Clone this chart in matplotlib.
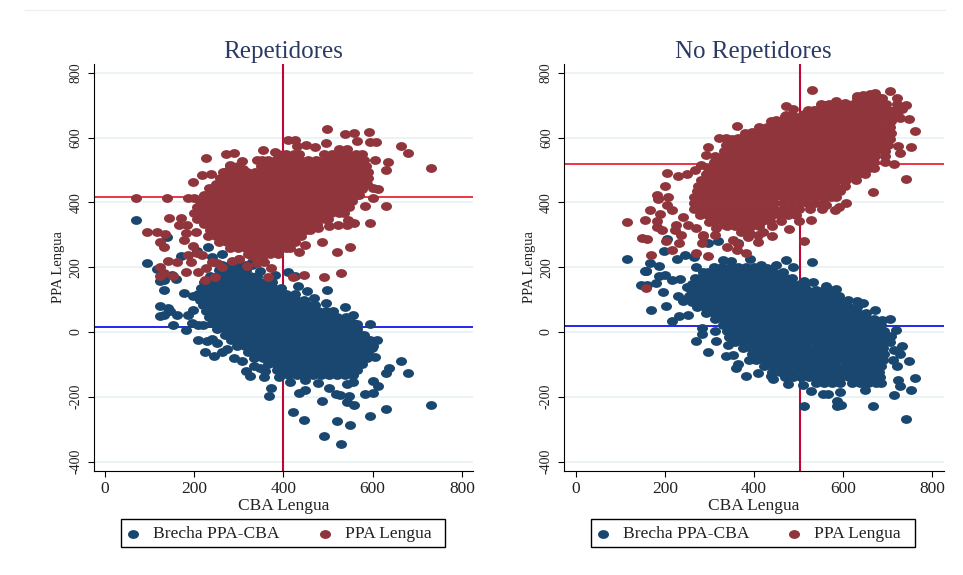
import matplotlib
matplotlib.use("Agg")
import matplotlib.pyplot as plt
from matplotlib.lines import Line2D
from matplotlib.patches import Rectangle
from matplotlib.path import Path
from matplotlib.transforms import Affine2D

plt.rcParams["axes.unicode_minus"] = False

# values: {y: [x, x, ...]} for the dense clouds, plus loose points
rep_ppa_rows = {
    566: [525, 543],
    548: [387, 405, 423, 435, 490, 508, 526, 544, 562, 575],
    530: [365, 383, 401, 419, 437, 455, 473, 491, 509, 527, 545, 563, 581],
    512: [280, 298, 350, 368, 386, 404, 422, 440, 458, 476, 494, 512, 530, 548, 566, 584],
    494: [265, 283, 301, 319, 337, 355, 373, 391, 409, 427, 445, 463, 481, 499, 517, 535, 553, 571, 589],
    476: [258, 276, 294, 312, 330, 348, 366, 384, 402, 420, 438, 456, 474, 492, 510, 528, 546, 564, 582, 590],
    458: [248, 266, 284, 302, 320, 338, 356, 374, 392, 410, 428, 446, 464, 482, 500, 518, 536, 554, 572, 588],
    440: [235, 253, 271, 289, 307, 325, 343, 361, 379, 397, 415, 433, 451, 469, 487, 505, 523, 541, 559, 577],
    422: [222, 240, 258, 276, 294, 312, 330, 348, 366, 384, 402, 420, 438, 456, 474, 492, 510, 528, 546, 564, 570],
    404: [212, 230, 248, 266, 284, 302, 320, 338, 356, 374, 392, 410, 428, 446, 464, 482, 500, 518, 536, 554],
    386: [205, 223, 241, 259, 277, 295, 313, 331, 349, 367, 385, 403, 421, 439, 457, 475, 493, 511, 529, 547],
    368: [200, 218, 236, 254, 272, 290, 308, 326, 344, 362, 380, 398, 416, 434, 452, 470, 488, 506, 524, 535],
    350: [205, 223, 241, 259, 277, 295, 313, 331, 349, 367, 385, 403, 421, 439, 457, 475, 493, 500],
    332: [222, 240, 258, 276, 294, 312, 330, 348, 366, 384, 402, 420, 438, 456, 475],
    314: [235, 253, 271, 289, 307, 325, 343, 361, 379, 397, 415, 433, 451, 460],
    296: [230, 248, 266, 284, 302, 320, 338, 356, 374, 392, 410, 428, 440],
    278: [255, 273, 291, 309, 327, 345, 363, 381, 399, 417, 425],
    260: [280, 298, 316, 334, 352, 370, 388, 406, 415],
    242: [320, 338, 356, 370, 388],
}
rep_ppa_x = [70, 138, 185, 200, 219, 198, 218, 237, 227, 271, 290, 306, 354, 381, 340, 352, 279, 289, 310, 269,
             232, 250, 410, 425, 431, 451, 471, 495, 497, 537, 558, 591, 564, 594, 607, 663, 680, 731, 634, 630,
             605, 600, 601, 611, 582, 630, 593, 559, 544, 523, 501, 542, 478, 487, 520, 549, 448, 434, 529, 490,
             447, 422, 366, 372, 247, 224, 123, 131, 153, 181, 123, 142, 162, 187, 192, 209, 226, 240, 252, 263,
             95, 116, 134, 124, 132, 144, 166, 170, 183, 176, 182, 198, 206, 217, 204, 300, 318, 340, 352, 357, 330, 285]
rep_ppa_y = [412, 413, 415, 415, 418, 464, 484, 488, 538, 548, 551, 529, 563, 555, 531, 531, 515, 510, 502, 495,
             445, 447, 592, 594, 574, 576, 572, 583, 627, 612, 613, 616, 589, 587, 585, 575, 551, 507, 524, 501,
             531, 413, 443, 440, 390, 390, 335, 335, 346, 330, 328, 330, 320, 277, 247, 262, 268, 247, 183, 169,
             177, 171, 169, 198, 171, 160, 173, 181, 173, 186, 202, 220, 217, 238, 216, 184, 197, 217, 212, 202,
             309, 310, 303, 279, 262, 351, 329, 353, 330, 284, 307, 264, 243, 238, 310, 225, 205, 214, 232, 215, 236, 218]

rep_gap_rows = {
    208: [262, 280, 298, 316, 330],
    190: [255, 273, 291, 309, 315],
    172: [235, 253, 271, 289, 307, 325, 340],
    154: [222, 240, 258, 276, 294, 312, 330, 348, 366, 375],
    136: [215, 233, 251, 269, 287, 305, 323, 341, 359, 377, 395],
    118: [208, 226, 244, 262, 280, 298, 316, 334, 352, 370, 388, 406, 425],
    100: [213, 231, 249, 267, 285, 303, 321, 339, 357, 375, 393, 411, 429, 445],
    82: [220, 238, 256, 274, 292, 310, 328, 346, 364, 382, 400, 418, 436, 454, 470],
    64: [226, 244, 262, 280, 298, 316, 334, 352, 370, 388, 406, 424, 442, 460, 478, 496, 510],
    46: [233, 251, 269, 287, 305, 323, 341, 359, 377, 395, 413, 431, 449, 467, 485, 503, 521, 540],
    28: [240, 258, 276, 294, 312, 330, 348, 366, 384, 402, 420, 438, 456, 474, 492, 510, 528, 546, 555],
    10: [252, 270, 288, 306, 324, 342, 360, 378, 396, 414, 432, 450, 468, 486, 504, 522, 540, 558, 565],
    -8: [268, 286, 304, 322, 340, 358, 376, 394, 412, 430, 448, 466, 484, 502, 520, 538, 556, 574, 580],
    -26: [282, 300, 318, 336, 354, 372, 390, 408, 426, 444, 462, 480, 498, 516, 534, 552, 570, 588, 595],
    -44: [295, 313, 331, 349, 367, 385, 403, 421, 439, 457, 475, 493, 511, 529, 547, 565, 583, 600],
    -62: [320, 338, 356, 374, 392, 410, 428, 446, 464, 482, 500, 518, 536, 554, 572, 590],
    -80: [335, 353, 371, 389, 407, 425, 443, 461, 479, 497, 515, 533, 551, 569, 587],
    -98: [365, 383, 401, 419, 437, 455, 473, 491, 509, 527, 545, 563, 575],
    -116: [385, 403, 421, 439, 457, 475, 493, 511, 529, 547, 565],
    -134: [395, 413, 431, 449, 467, 485, 503, 521, 539, 555],
}
rep_gap_x = [70, 95, 138, 116, 123, 132, 132, 123, 142, 123, 131, 146, 162, 153, 182, 187, 198, 194, 209, 220,
             209, 228, 239, 250, 224, 245, 262, 273, 288, 306, 316, 325, 334, 348, 359, 357, 373, 367, 389, 415,
             448, 478, 448, 434, 501, 487, 517, 527, 542, 555, 546, 543, 559, 582, 600, 600, 611, 421, 447, 519,
             550, 490, 530, 593, 630, 731, 680, 630, 636, 663, 606, 598, 609, 593, 564, 557, 538, 495, 497, 469,
             452, 432, 410, 425, 381, 347, 170, 206, 230, 240, 262, 300, 330, 150, 160, 178, 196]
rep_gap_y = [345, 213, 294, 194, 156, 161, 131, 79, 74, 50, 51, 64, 53, 23, 7, 53, 69, 28, 21, 21,
             -24, -27, -22, -34, -63, -73, -63, -52, -80, -88, -119, -137, -106, -111, -121, -139, -174, -198, -139, -154,
             -147, -157, -179, -188, -174, -212, -191, -193, -162, -155, -198, -216, -224, -191, -188, -152, -168, -248, -271, -274,
             -286, -322, -346, -258, -239, -225, -127, -126, -111, -88, -77, -49, -24, 26, 26, 53, 76, 90, 130, 105,
             125, 141, 184, 172, 177, 187, 235, 250, 262, 230, 240, 225, 215, 175, 165, 120, 110]

norep_ppa_rows = {
    722: [630, 648, 666, 680],
    704: [551, 569, 587, 605, 623, 641, 659, 677, 695],
    686: [521, 539, 557, 575, 593, 611, 629, 647, 665, 683, 701, 716],
    668: [469, 487, 505, 523, 541, 559, 577, 595, 613, 631, 649, 667, 685, 703, 723],
    650: [439, 457, 475, 493, 511, 529, 547, 565, 583, 601, 619, 637, 655, 673, 691, 708],
    632: [412, 430, 448, 466, 484, 502, 520, 538, 556, 574, 592, 610, 628, 646, 664, 682, 705],
    614: [380, 398, 416, 434, 452, 470, 488, 506, 524, 542, 560, 578, 596, 614, 632, 650, 668, 686, 708],
    596: [350, 368, 386, 404, 422, 440, 458, 476, 494, 512, 530, 548, 566, 584, 602, 620, 638, 656, 674, 692, 705],
    578: [338, 356, 374, 392, 410, 428, 446, 464, 482, 500, 518, 536, 554, 572, 590, 608, 626, 644, 662, 680, 700],
    560: [332, 350, 368, 386, 404, 422, 440, 458, 476, 494, 512, 530, 548, 566, 584, 602, 620, 638, 656, 674, 693],
    542: [312, 330, 348, 366, 384, 402, 420, 438, 456, 474, 492, 510, 528, 546, 564, 582, 600, 618, 636, 654, 672, 693],
    524: [310, 328, 346, 364, 382, 400, 418, 436, 454, 472, 490, 508, 526, 544, 562, 580, 598, 616, 634, 652, 670, 693],
    506: [298, 316, 334, 352, 370, 388, 406, 424, 442, 460, 478, 496, 514, 532, 550, 568, 586, 604, 622, 640, 658, 670],
    488: [292, 310, 328, 346, 364, 382, 400, 418, 436, 454, 472, 490, 508, 526, 544, 562, 580, 598, 616, 634, 648],
    470: [282, 300, 318, 336, 354, 372, 390, 408, 426, 444, 462, 480, 498, 516, 534, 552, 570, 588, 606, 628],
    452: [275, 293, 311, 329, 347, 365, 383, 401, 419, 437, 455, 473, 491, 509, 527, 545, 563, 581, 605],
    434: [272, 290, 308, 326, 344, 362, 380, 398, 416, 434, 452, 470, 488, 506, 524, 542, 560, 578, 592],
    416: [266, 284, 302, 320, 338, 356, 374, 392, 410, 428, 446, 464, 482, 500, 518, 536, 554, 572, 585],
    398: [266, 284, 302, 320, 338, 356, 374, 392, 410, 428, 446, 464, 482, 500, 518, 536, 558],
    380: [266, 284, 302, 320, 338, 356, 374, 392, 410, 428, 446, 464, 482, 500, 525],
    362: [278, 296, 314, 332, 350, 368, 386, 404, 422, 440, 458, 476, 495],
    344: [310, 328, 346, 364, 382, 400, 418, 436, 460],
    326: [340, 358, 376, 394, 412, 440],
    308: [370, 388, 420],
}
norep_ppa_x = [115, 156, 148, 160, 169, 202, 217, 182, 167, 182, 182, 193, 190, 206, 184, 217, 208, 200, 205, 230,
               250, 268, 281, 292, 296, 321, 337, 362, 365, 395, 416, 450, 472, 487, 472, 529, 513, 534, 562, 583,
               603, 630, 645, 660, 671, 705, 687, 720, 731, 748, 727, 762, 752, 723, 727, 714, 741, 666, 590, 582,
               562, 552, 607, 528, 513, 500, 478, 440, 408, 410, 386, 382, 362, 339, 352, 364, 296, 271, 283, 285,
               232, 225, 236, 251, 270, 285, 312, 315, 334, 240, 222, 300, 720, 740, 695, 700, 157]
norep_ppa_y = [340, 345, 291, 287, 238, 280, 253, 423, 377, 341, 325, 315, 364, 392, 409, 375, 418, 451, 492, 481,
               489, 499, 515, 546, 572, 600, 598, 636, 598, 616, 623, 654, 698, 688, 669, 747, 672, 685, 702, 714,
               707, 728, 731, 734, 738, 743, 721, 723, 687, 657, 659, 620, 572, 574, 553, 518, 471, 432, 387, 375,
               391, 381, 397, 345, 282, 343, 318, 296, 278, 300, 294, 243, 252, 261, 285, 272, 233, 243, 276, 296,
               276, 330, 300, 330, 320, 300, 298, 322, 330, 355, 315, 340, 705, 700, 590, 620, 135]

norep_gap_rows = {
    202: [310, 328, 346, 364, 382, 400, 418],
    184: [285, 298, 316, 334, 352, 370, 388, 406, 424, 442],
    166: [268, 280, 292, 310, 328, 346, 364, 382, 400, 418, 436, 454, 472, 485],
    148: [262, 280, 288, 306, 324, 342, 360, 378, 396, 414, 432, 450, 468, 486, 504, 515],
    130: [258, 268, 286, 304, 322, 340, 358, 376, 394, 412, 430, 448, 466, 484, 502, 520, 538, 556, 570],
    112: [255, 273, 291, 309, 327, 345, 363, 381, 399, 417, 435, 453, 471, 489, 507, 525, 543, 561, 579, 590],
    94: [262, 280, 298, 316, 334, 352, 370, 388, 406, 424, 442, 460, 478, 496, 514, 532, 550, 568, 586, 604],
    76: [272, 290, 308, 326, 344, 362, 380, 398, 416, 434, 452, 470, 488, 506, 524, 542, 560, 578, 596, 614, 630],
    58: [292, 310, 328, 346, 364, 382, 400, 418, 436, 454, 472, 490, 508, 526, 544, 562, 580, 598, 616, 634, 652],
    40: [312, 330, 348, 366, 384, 402, 420, 438, 456, 474, 492, 510, 528, 546, 564, 582, 600, 618, 636, 654, 670],
    22: [330, 348, 366, 384, 402, 420, 438, 456, 474, 492, 510, 528, 546, 564, 582, 600, 618, 636, 654, 672, 685],
    4: [340, 358, 376, 394, 412, 430, 448, 466, 484, 502, 520, 538, 556, 574, 592, 610, 628, 646, 664, 682, 692],
    -14: [345, 363, 381, 399, 417, 435, 453, 471, 489, 507, 525, 543, 561, 579, 597, 615, 633, 651, 669, 687, 695],
    -32: [358, 376, 394, 412, 430, 448, 466, 484, 502, 520, 538, 556, 574, 592, 610, 628, 646, 664, 682, 692],
    -50: [375, 393, 411, 429, 447, 465, 483, 501, 519, 537, 555, 573, 591, 609, 627, 645, 663, 681, 690],
    -68: [395, 413, 431, 449, 467, 485, 503, 521, 539, 557, 575, 593, 611, 629, 647, 665, 683, 692],
    -86: [405, 423, 441, 459, 477, 495, 513, 531, 549, 567, 585, 603, 621, 639, 657, 675, 690],
    -104: [422, 440, 458, 476, 494, 512, 530, 548, 566, 584, 602, 620, 638, 656, 674, 685],
    -122: [440, 458, 476, 494, 512, 530, 548, 566, 584, 602, 620, 638, 656, 674, 680],
    -140: [470, 488, 506, 524, 542, 560, 578, 596, 614, 632, 650, 668, 682],
    -158: [540, 558, 576, 594, 620, 638, 656, 674, 685],
}
norep_gap_x = [115, 156, 166, 147, 157, 169, 202, 195, 217, 181, 187, 157, 217, 232, 251, 271, 283, 283, 313, 315,
               296, 341, 337, 352, 364, 360, 388, 382, 409, 439, 442, 477, 510, 528, 513, 555, 566, 594, 586, 587,
               595, 648, 666, 714, 741, 752, 727, 722, 762, 747, 727, 731, 718, 705, 687, 671, 645, 630, 583, 562,
               532, 513, 530, 487, 472, 450, 416, 206, 199, 296, 320, 364, 228, 245, 265, 188, 200, 240, 230, 160,
               330, 348, 390, 270, 430, 455, 465, 705, 715, 712, 708, 720, 610, 235, 250]
norep_gap_y = [225, 188, 212, 145, 189, 69, 79, 123, 159, 151, 172, 189, 35, 48, 53, -29, -5, 12, 4, -27,
               -61, -40, -73, -70, -98, -111, -87, -137, -126, -137, -145, -160, -165, -181, -229, -191, -190, -185, -214, -229,
               -224, -180, -229, -195, -269, -178, -168, -147, -141, -88, -67, -42, 5, 41, 36, 69, 89, 97, 133, 141,
               153, 156, 215, 202, 223, 208, 208, 287, 251, 276, 282, 275, 224, 238, 232, 205, 175, 95, 110, 145,
               222, 218, 224, 200, 198, 178, 186, -30, -55, -85, -12, -105, 100, 165, 140]

panels = [
    ("Repetidores", rep_gap_rows, rep_gap_x, rep_gap_y, rep_ppa_rows, rep_ppa_x, rep_ppa_y, 416, 400, 14),
    ("No Repetidores", norep_gap_rows, norep_gap_x, norep_gap_y, norep_ppa_rows, norep_ppa_x, norep_ppa_y, 519, 503, 17.5),
]
x_ticks = [0, 200, 400, 600, 800]
y_ticks = [-400, -200, 0, 200, 400, 600, 800]

BLUE = "#1a476f"
MAROON = "#90353b"
INK = "#222222"
SERIF = "Liberation Serif"
W, H = 963, 575

# the source picture is stretched, the dots are wider than tall
dot = Path.unit_circle().transformed(Affine2D().scale(1, 0.8))


def flatten(rows, x, y):
    xs = list(x)
    ys = list(y)
    for row_y, row_x in rows.items():
        xs += row_x
        ys += [row_y] * len(row_x)
    return xs, ys


fig = plt.figure(figsize=(W / 100, H / 100), dpi=100)
fig.add_artist(Line2D([25 / W, 945 / W], [1 - 10 / H, 1 - 10 / H], color="#f0f0f0", lw=1))

lefts = [93.5, 564]
box_lefts = [121, 590.5]
for left, box_left, p in zip(lefts, box_lefts, panels):
    title, gap_rows, gap_x, gap_y, ppa_rows, ppa_x, ppa_y, hline_ppa, vline, hline_gap = p
    ax = fig.add_axes([left / W, 1 - 471 / H, 379.5 / W, 407 / H])
    ax.set_xlim(-26, 825)
    ax.set_ylim(-429, 827)

    ax.set_yticks(y_ticks)
    ax.set_xticks(x_ticks)
    ax.grid(axis="y", color="#eaf2f3", lw=1.3, zorder=0)
    ax.set_axisbelow(True)

    ax.axhline(hline_ppa, color="#e60012", lw=1.1, zorder=1)
    ax.axhline(hline_gap, color="#0000f0", lw=1.2, zorder=1)
    ax.axvline(vline, color="#c10534", lw=1.5, zorder=1)

    xs, ys = flatten(gap_rows, gap_x, gap_y)
    ax.scatter(xs, ys, s=63, marker=dot, color=BLUE, linewidths=0, zorder=2, label="Brecha PPA-CBA")
    xs, ys = flatten(ppa_rows, ppa_x, ppa_y)
    ax.scatter(xs, ys, s=63, marker=dot, color=MAROON, linewidths=0, zorder=3, label="PPA Lengua")

    ax.spines["top"].set_visible(False)
    ax.spines["right"].set_visible(False)
    ax.tick_params(axis="x", labelsize=12.5, labelcolor=INK, length=4, pad=3)
    ax.tick_params(axis="y", labelsize=10, labelcolor=INK, length=4, pad=4)
    for t in ax.get_xticklabels() + ax.get_yticklabels():
        t.set_family(SERIF)
    for t in ax.get_yticklabels():
        t.set_rotation(90)
        t.set_va("center")

    ax.set_title(title, family=SERIF, fontsize=18, color="#2a3a62", pad=4)
    ax.set_xlabel("CBA Lengua", family=SERIF, fontsize=12.5, color=INK, labelpad=1)
    ax.set_ylabel("PPA Lengua", family=SERIF, fontsize=10.5, color=INK, labelpad=3)

    # legend box drawn by hand so it can have the reference's exact size
    fig.add_artist(Rectangle((box_left / W, 1 - 547 / H), 324 / W, 28 / H, transform=fig.transFigure,
                             facecolor="white", edgecolor="black", lw=1, zorder=-1))
    leg = ax.legend(loc="center left", bbox_to_anchor=(box_left / W, 1 - 534 / H),
                    bbox_transform=fig.transFigure, ncol=2, frameon=False,
                    prop={"family": SERIF, "size": 12.6}, labelcolor=INK,
                    borderpad=0.3, handlelength=0.78, handletextpad=0.75, columnspacing=2.2, borderaxespad=0)

fig.savefig("out.png", dpi=100)
